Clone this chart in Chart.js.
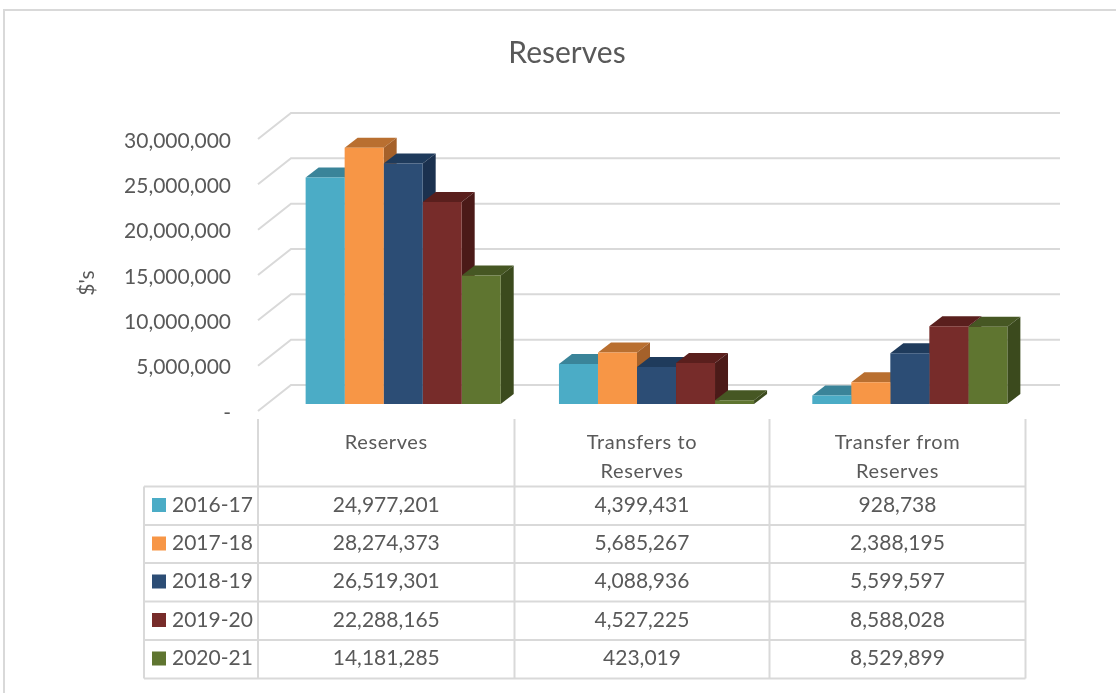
<!DOCTYPE html>
<html><head><meta charset="utf-8">
<style>html,body{margin:0;padding:0;background:#fff;overflow:hidden}canvas{display:block}</style>
<script src="https://cdn.jsdelivr.net/npm/chart.js@4/dist/chart.umd.min.js"></script>
</head><body>
<div style="position:relative;width:1116px;height:693px"><canvas id="c" width="1116" height="693"></canvas></div>
<script>
const categories = [["Reserves"], ["Transfers to", "Reserves"], ["Transfer from", "Reserves"]];
const seriesNames = ["2016-17", "2017-18", "2018-19", "2019-20", "2020-21"];
const s2016 = [24977201, 4399431, 928738];
const s2017 = [28274373, 5685267, 2388195];
const s2018 = [26519301, 4088936, 5599597];
const s2019 = [22288165, 4527225, 8588028];
const s2020 = [14181285, 423019, 8529899];
const frontColors = ["#4BACC6", "#F79646", "#2C4D75", "#772C2A", "#5F7530"];
const topColors = ["#3A8499", "#B96F30", "#1F3B5C", "#5A1F1D", "#465723"];
const sideColors = ["#2F6E80", "#A5612A", "#1B314F", "#4B1A18", "#3B4A1D"];
const yTicks = [0, 5000000, 10000000, 15000000, 20000000, 25000000, 30000000];
const TEXT = "#595959", LINE = "#D9D9D9", FONT = "Lato, Carlito, sans-serif";
const fmt = v => v === 0 ? "-" : v.toLocaleString("en-US");
const allSeries = [s2016, s2017, s2018, s2019, s2020];

function text(ctx, str, x, y, size, align, spacing) {
  ctx.font = size + "px " + FONT;
  ctx.fillStyle = TEXT;
  ctx.textAlign = align;
  ctx.textBaseline = "middle";
  ctx.letterSpacing = (spacing || 0) + "px";
  ctx.fillText(str, x, y);
  ctx.letterSpacing = "0px";
}
function line(ctx, pts) {
  ctx.beginPath();
  pts.forEach((p, i) => i ? ctx.lineTo(p[0], p[1]) : ctx.moveTo(p[0], p[1]));
  ctx.stroke();
}
function poly(ctx, pts, color) {
  ctx.fillStyle = color;
  ctx.beginPath();
  pts.forEach((p, i) => i ? ctx.lineTo(p[0], p[1]) : ctx.moveTo(p[0], p[1]));
  ctx.closePath();
  ctx.fill();
}

const scene = {
  id: "scene",
  beforeDatasetsDraw(chart) {
    const { ctx, scales: { y } } = chart;
    const dx = 13, dy = 10;
    ctx.save();
    // chart frame
    ctx.strokeStyle = LINE; ctx.lineWidth = 2;
    line(ctx, [[4, 693], [4, 10], [1116, 10]]);
    // title
    text(ctx, "Reserves", 567, 53, 30, "center", 0);
    // axis title
    ctx.save();
    ctx.translate(87, 283); ctx.rotate(-Math.PI / 2);
    text(ctx, "$'s", 0, 0, 21, "center", 0);
    ctx.restore();
    // walls and floor grid
    ctx.strokeStyle = LINE; ctx.lineWidth = 2;
    yTicks.forEach(v => {
      const p = y.getPixelForValue(v);
      line(ctx, [[258, p + 7], [291, p - 19], [1060, p - 19]]);
      text(ctx, fmt(v), 231, p + 9, 21, "right", 0);
    });
    // bar depth, left to right so each one overlaps its left neighbour
    chart.data.datasets.forEach((ds, i) => {
      chart.getDatasetMeta(i).data.forEach(b => {
        const l = b.x - b.width / 2, r = b.x + b.width / 2, t = b.y, base = b.base;
        poly(ctx, [[l, t], [l + dx, t - dy], [r + dx, t - dy], [r, t]], topColors[i]);
        poly(ctx, [[r, t], [r + dx, t - dy], [r + dx, base - dy], [r, base]], sideColors[i]);
      });
    });
    ctx.restore();
  },
  afterDatasetsDraw(chart) {
    const { ctx } = chart;
    const colX = [258, 514.5, 769.5, 1025.5];
    const rowY = [486.5, 525, 563, 601.5, 640, 678.5];
    ctx.save();
    ctx.strokeStyle = LINE; ctx.lineWidth = 2;
    colX.forEach(x => line(ctx, [[x, 419], [x, 678.5]]));
    line(ctx, [[144, 486.5], [144, 678.5]]);
    rowY.forEach(yy => line(ctx, [[144, yy], [1025.5, yy]]));
    categories.forEach((c, k) => {
      const cx = (colX[k] + colX[k + 1]) / 2;
      c.forEach((t, j) => text(ctx, t, cx, 443 + j * 29, 20, "center", 0.6));
      allSeries.forEach((vals, s) => {
        text(ctx, fmt(vals[k]), cx, rowY[s] + 18.5, 21, "center", 0);
      });
    });
    seriesNames.forEach((n, s) => {
      const cy = rowY[s] + 18.5;
      ctx.fillStyle = frontColors[s];
      ctx.fillRect(152, cy - 7, 14, 14);
      text(ctx, n, 172, cy, 21, "left", 0);
    });
    ctx.restore();
  }
};

new Chart(document.getElementById("c"), {
  type: "bar",
  data: {
    labels: categories.map(c => c.join(" ")),
    datasets: seriesNames.map((n, i) => ({
      label: n, data: allSeries[i], backgroundColor: frontColors[i], borderWidth: 0,
      categoryPercentage: 0.77, barPercentage: 1
    }))
  },
  options: {
    responsive: false, animation: false,
    layout: { padding: { left: 268.5, right: 79.5, top: 132, bottom: 281 } },
    plugins: { legend: { display: false }, title: { display: false }, tooltip: { enabled: false } },
    scales: {
      x: { display: true, grid: { display: false }, border: { display: false }, ticks: { display: false } },
      y: { min: 0, max: 30000000, afterBuildTicks: a => { a.ticks = yTicks.map(v => ({ value: v })); },
           grid: { display: false }, border: { display: false }, ticks: { display: false } }
    }
  },
  plugins: [scene]
});
</script>
</body></html>
